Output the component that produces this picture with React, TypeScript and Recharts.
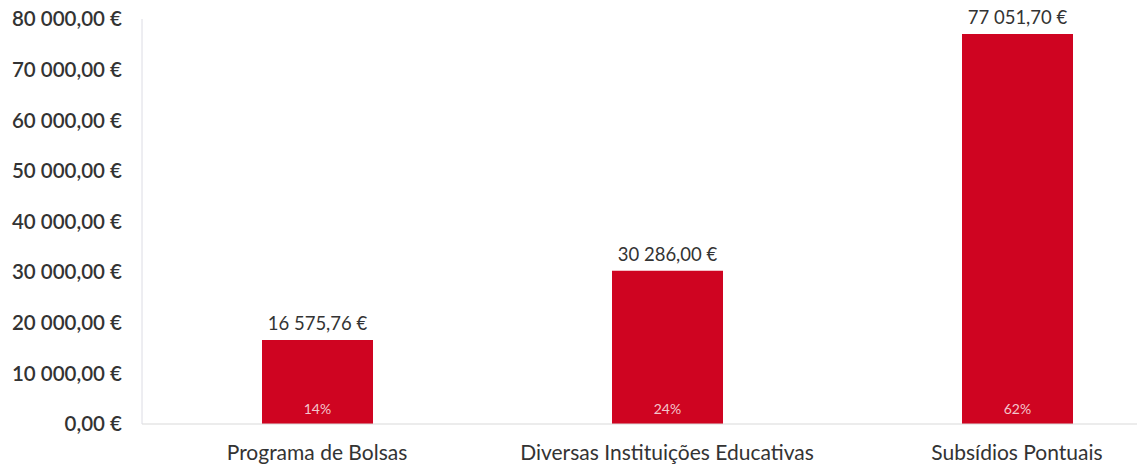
import React from 'react';
import { BarChart, Bar, XAxis, YAxis, LabelList } from 'recharts';

const categories = ['Programa de Bolsas', 'Diversas Instituições Educativas', 'Subsídios Pontuais'];
const amounts = [16575.76, 30286.0, 77051.7];
const shares = [14, 24, 62];
const yTicks = [0, 10000, 20000, 30000, 40000, 50000, 60000, 70000, 80000];

const data = categories.map((name, i) => ({ name, amount: amounts[i], share: shares[i] }));

function euro(v: number) {
  const [int, dec] = v.toFixed(2).split('.');
  const grouped = int.replace(/\B(?=(\d{3})+(?!\d))/g, ' ');
  return `${grouped},${dec} €`;
}

const FONT = 'Lato, "Open Sans", sans-serif';

function ShareLabel(props: any) {
  const { x, y, width, height, value } = props;
  return (
    <text
      x={x + width / 2}
      y={y + height - 10}
      textAnchor="middle"
      fill="#f3c6cc"
      fontSize={14}
      fontFamily={FONT}
    >
      {value}%
    </text>
  );
}

export default function App() {
  return (
    <div style={{ position: 'absolute', left: 0, top: 0, width: 1137, height: 472, overflow: 'hidden', background: '#fff' }}>
      <BarChart
        width={1200}
        height={472}
        data={data}
        margin={{ top: 19, right: 8, bottom: 0, left: 0 }}
        barCategoryGap={0}
      >
        <XAxis
          dataKey="name"
          axisLine={{ stroke: '#d9d9d9' }}
          tickLine={false}
          height={48}
          tickMargin={15}
          tick={{ fill: '#333', fontSize: 21, fontFamily: FONT }}
          interval={0}
        />
        <YAxis
          domain={[0, 80000]}
          ticks={yTicks}
          width={142}
          axisLine={{ stroke: '#dcdce4' }}
          tickLine={false}
          tickSize={0}
          tickMargin={20}
          tickFormatter={(v: number) => euro(v)}
          tick={{ fill: '#333', fontSize: 20.5, fontFamily: FONT, fontWeight: 600 }}
        />
        <Bar dataKey="amount" fill="#cf0421" barSize={111} isAnimationActive={false}>
          <LabelList
            dataKey="amount"
            position="top"
            offset={10}
            formatter={(v: any) => euro(Number(v))}
            style={{ fill: '#333', fontSize: 18.5, fontFamily: FONT }}
          />
          <LabelList dataKey="share" content={<ShareLabel />} />
        </Bar>
      </BarChart>
    </div>
  );
}
